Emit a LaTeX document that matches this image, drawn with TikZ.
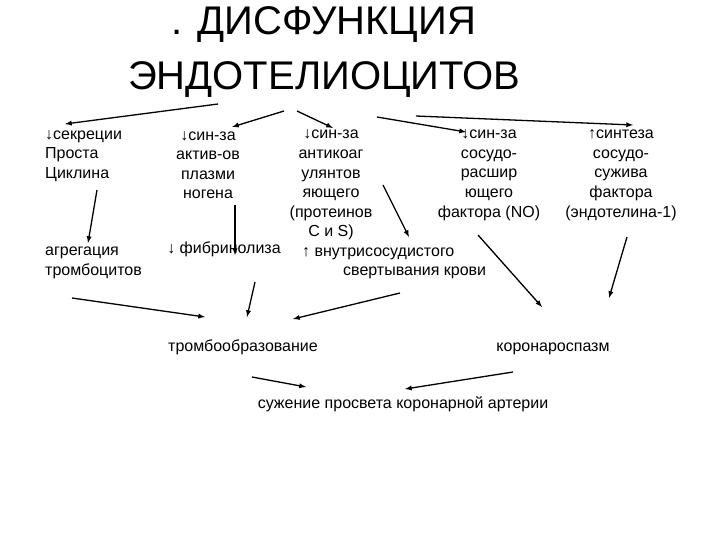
\documentclass[tikz,border=0pt]{standalone}
\usepackage{fontspec}
\setmainfont{Liberation Sans}
\usepackage{tikz}

\tikzset{
	lbl/.style={inner sep=0pt, align=center, font=\fontsize{16}{19.6}\selectfont},
	arr/.style={-latex, line width=1.3pt}
}

\begin{document}
\begin{tikzpicture}[x=1pt,y=-1pt]
	\path[use as bounding box] (0,0) rectangle (720,540);

	\node[inner sep=0pt, align=center, font=\fontsize{40}{55}\selectfont] (title) at (324,52) {. ДИСФУНКЦИЯ\\ЭНДОТЕЛИОЦИТОВ};

	\node[lbl, align=left, anchor=west] (prost) at (45,156)   {↓секреции\\Проста\\Циклина};
	\node[lbl] (plasm) at (208,165)   {↓син-за\\актив-ов\\плазми\\ногена};
	\node[lbl] (antik) at (331,185)   {↓син-за\\антикоаг\\улянтов\\яющего\\(протеинов\\С и S)};
	\node[lbl] (vaso) at (489,175)    {↓син-за\\сосудо-\\расшир\\ющего\\фактора (NO)};
	\node[lbl] (endo) at (621,175)    {↑синтеза\\сосудо-\\сужива\\фактора\\(эндотелина-1)};

	\node[lbl, align=left, anchor=west] (agr) at (45,263) {агрегация\\тромбоцитов};
	\node[lbl, anchor=base] (fibr) at (224,254)    {↓ фибринолиза};
	\node[lbl, align=left, anchor=west] (coag) at (302,263) {↑ внутрисосудистого\\\hspace*{41pt}свертывания крови};

	\node[lbl, anchor=base] (thromb) at (243,351)  {тромбообразование};
	\node[lbl, anchor=base] (spasm) at (553,351)   {коронароспазм};
	\node[lbl, anchor=base] (narrow) at (403,408)  {сужение просвета коронарной артерии};

	% arrow ends
	\coordinate (t1) at (218,104);  \coordinate (p1) at (65,124);
	\coordinate (t2) at (284,111);  \coordinate (p2) at (232,127);
	\coordinate (t3) at (297,111);  \coordinate (p3) at (333,128);
	\coordinate (t4) at (377,117);  \coordinate (p4) at (466,132);
	\coordinate (t5) at (416,116);  \coordinate (p5) at (633,125);

	\coordinate (prost-out) at (97,190);  \coordinate (agr-in) at (88,243);
	\coordinate (plasm-out) at (235,205); \coordinate (fibr-in) at (235,255);
	\coordinate (antik-out) at (383,185); \coordinate (coag-in) at (409,237);
	\coordinate (vaso-out) at (478,235);  \coordinate (spasm-in1) at (542,307);
	\coordinate (endo-out) at (627,237);  \coordinate (spasm-in2) at (609,298);

	\coordinate (agr-out) at (72,298);    \coordinate (thromb-in1) at (205,317);
	\coordinate (fibr-out) at (255,282);  \coordinate (thromb-in2) at (247,317);
	\coordinate (coag-out) at (400,293);  \coordinate (thromb-in3) at (293,319);

	\coordinate (thromb-out) at (252,377);  \coordinate (narrow-in1) at (306,387);
	\coordinate (spasm-out) at (513,372);   \coordinate (narrow-in2) at (405,389);

	\path[arr] (t1) edge (p1);
	\path[arr] (t2) edge (p2);
	\path[arr] (t3) edge (p3);
	\path[arr] (t4) edge (p4);
	\path[arr] (t5) edge (p5);
	\path[arr] (prost-out) edge (agr-in);
	\path[arr] (plasm-out) edge (fibr-in);
	\path[arr] (antik-out) edge (coag-in);
	\path[arr] (vaso-out) edge (spasm-in1);
	\path[arr] (endo-out) edge (spasm-in2);
	\path[arr] (agr-out) edge (thromb-in1);
	\path[arr] (fibr-out) edge (thromb-in2);
	\path[arr] (coag-out) edge (thromb-in3);
	\path[arr] (thromb-out) edge (narrow-in1);
	\path[arr] (spasm-out) edge (narrow-in2);
\end{tikzpicture}
\end{document}
